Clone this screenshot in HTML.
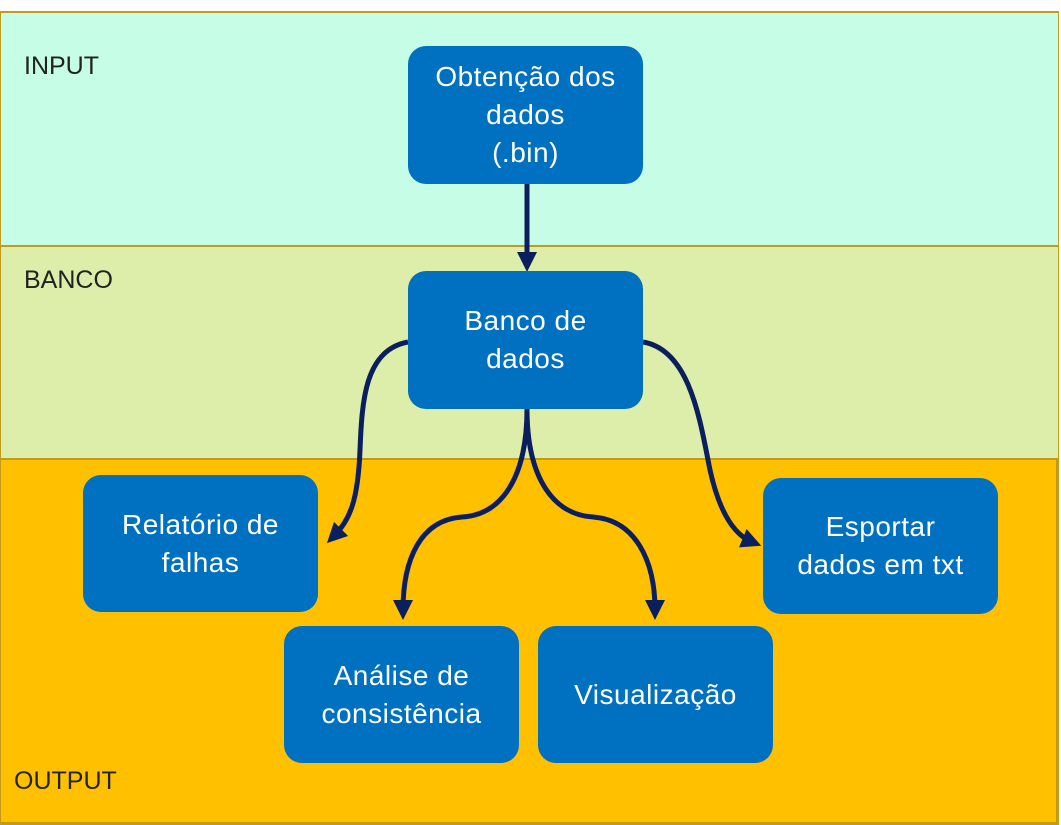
<!DOCTYPE html>
<html><head><meta charset="utf-8"><style>
body{margin:0;width:1061px;height:825px;background:#fff;position:relative;overflow:hidden;font-family:"Liberation Sans",sans-serif}
.band{position:absolute;left:0;width:1059px;border:1px solid #c49a1c;border-top-width:2px;box-sizing:border-box}
.lbl{position:absolute;font-size:25px;color:#222}
.box{position:absolute;width:235px;background:#0070c0;border-radius:18px;color:#fff;font-size:28px;display:flex;align-items:center;justify-content:center;text-align:center;line-height:38px;letter-spacing:0.5px}
</style></head><body>
<div class="band" style="top:11px;height:236px;background:#c5fde6"></div>
<div class="band" style="top:245px;height:215px;background:#ddedaa"></div>
<div class="band" style="top:458px;height:367px;background:#ffc000;border-bottom-width:3px;border-right-width:3px"></div>
<div class="lbl" style="left:24px;top:52px">INPUT</div>
<div class="lbl" style="left:24px;top:266px">BANCO</div>
<div class="lbl" style="left:14px;top:767px">OUTPUT</div>
<svg width="1061" height="825" style="position:absolute;left:0;top:0">
<defs><marker id="a" markerWidth="4" markerHeight="4" refX="2" refY="2" orient="auto" markerUnits="strokeWidth"><path d="M0,0L4,2L0,4z" fill="#0b1f5e"/></marker></defs>
<g stroke="#0b1f5e" stroke-width="5" fill="none" marker-end="url(#a)">
<path d="M527,184 L527,262"/>
<path d="M408,342 C365,350 362,400 360,450 C358,500 350,520 334,536"/>
<path d="M643,342 C690,350 700,420 710,470 C720,515 735,535 752,542"/>
<path d="M527,409 C527,480 500,515 462,517 C420,520 403,560 403,610"/>
<path d="M527,409 C527,480 555,515 593,517 C635,520 655,560 655,610"/>
</g></svg>
<div class="box" style="left:408px;top:46px;height:138px">Obtenção dos<br>dados<br>(.bin)</div>
<div class="box" style="left:408px;top:271px;height:138px">Banco de<br>dados</div>
<div class="box" style="left:83px;top:475px;height:137px">Relatório de<br>falhas</div>
<div class="box" style="left:763px;top:478px;height:136px">Esportar<br>dados em txt</div>
<div class="box" style="left:284px;top:626px;height:137px">Análise de<br>consistência</div>
<div class="box" style="left:538px;top:626px;height:137px">Visualização</div>
</body></html>
